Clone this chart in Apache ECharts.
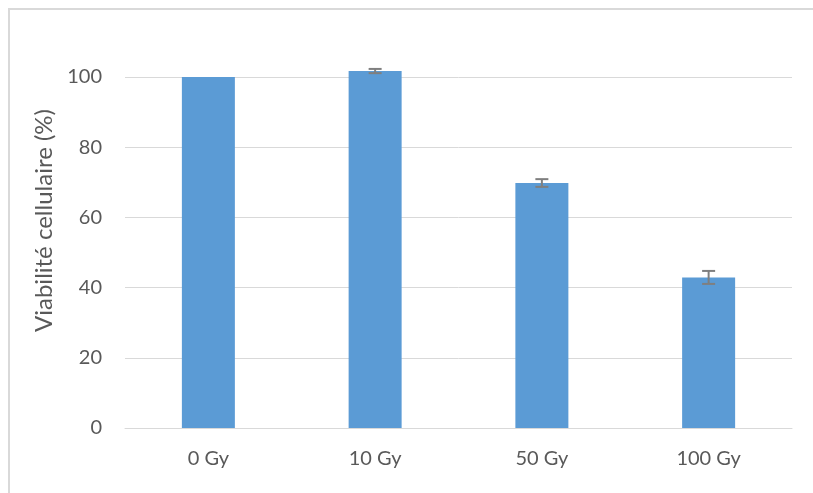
<!DOCTYPE html>
<html><head><meta charset="utf-8">
<script src="https://cdn.jsdelivr.net/npm/echarts@6/dist/echarts.min.js"></script>
<style>html,body{margin:0;padding:0;background:#fff}#c{width:813px;height:493px}</style>
</head><body><div id="c"></div>
<script>
const categories = ['0 Gy', '10 Gy', '50 Gy', '100 Gy'];
const viability = [100, 101.7, 69.8, 42.9];
const errors = [0, 0.6, 1.1, 1.85];
const yTicks = [0, 20, 40, 60, 80, 100];

const FONT = 'Lato, "Liberation Sans", sans-serif';
const chart = echarts.init(document.getElementById('c'));
chart.setOption({
  animation: false,
  backgroundColor: '#fff',
  graphic: [{
    type: 'polyline', silent: true,
    shape: { points: [[9, 500], [9, 9], [820, 9]] },
    style: { stroke: '#d9d9d9', lineWidth: 2, fill: null }
  }],
  grid: { left: 125, right: 21, top: 77, bottom: 65 },
  xAxis: {
    type: 'category', data: categories,
    axisLine: { lineStyle: { color: '#d9d9d9', width: 1 } },
    axisTick: { show: false },
    axisLabel: { color: '#595959', fontSize: 20, fontFamily: FONT, margin: 21 }
  },
  yAxis: {
    type: 'value', min: yTicks[0], max: yTicks[yTicks.length - 1], interval: 20,
    name: 'Viabilité cellulaire (%)', nameLocation: 'middle', nameGap: 66,
    nameTextStyle: { color: '#595959', fontSize: 24, fontFamily: FONT, padding: [0, 0, 0, 64] },
    axisLine: { show: false }, axisTick: { show: false },
    axisLabel: { color: '#595959', fontSize: 20, fontFamily: FONT, margin: 23 },
    splitLine: { lineStyle: { color: '#d9d9d9', width: 1 } }
  },
  series: [{
    type: 'bar', data: viability, barWidth: 53, clip: false,
    itemStyle: { color: '#5b9bd5' }
  }, {
    type: 'custom', clip: false, z: 5,
    data: viability.map((v, i) => [i, v - errors[i], v + errors[i]]),
    renderItem: function (params, api) {
      const lo = api.coord([api.value(0), api.value(1)]);
      const hi = api.coord([api.value(0), api.value(2)]);
      const x = lo[0], hw = 6.5;
      const st = { stroke: '#7f7f7f', lineWidth: 2 };
      if (Math.abs(lo[1] - hi[1]) < 0.5) return null;
      return { type: 'group', children: [
        { type: 'line', shape: { x1: x, y1: lo[1], x2: x, y2: hi[1] }, style: st },
        { type: 'line', shape: { x1: x - hw, y1: lo[1], x2: x + hw, y2: lo[1] }, style: st },
        { type: 'line', shape: { x1: x - hw, y1: hi[1], x2: x + hw, y2: hi[1] }, style: st }
      ]};
    }
  }]
});
</script></body></html>
